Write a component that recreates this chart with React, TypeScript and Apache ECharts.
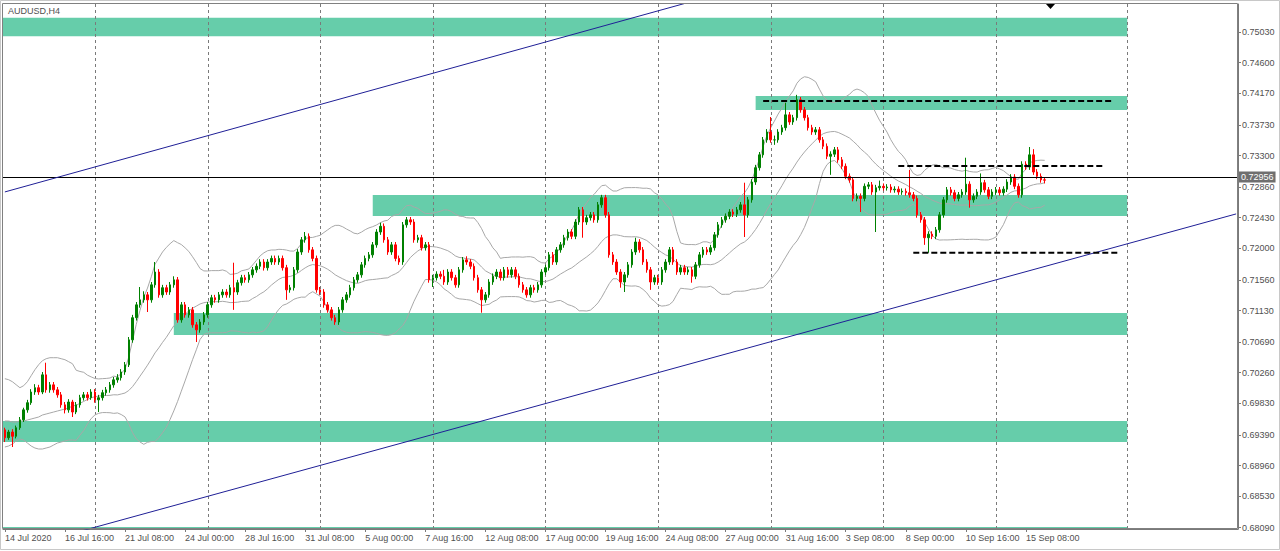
import React, { useEffect, useRef } from 'react';
import * as echarts from 'echarts';

const symbolTitle = 'AUDUSD,H4';
const fontFamily = 'Liberation Sans, Arial, sans-serif';

// Time axis labels, one every 16 H4 bars
const timeLabels = [
  '14 Jul 2020', '16 Jul 16:00', '21 Jul 08:00', '24 Jul 00:00', '28 Jul 16:00', '31 Jul 08:00',
  '5 Aug 00:00', '7 Aug 16:00', '12 Aug 08:00', '17 Aug 00:00', '19 Aug 16:00', '24 Aug 08:00',
  '27 Aug 00:00', '31 Aug 16:00', '3 Sep 08:00', '8 Sep 00:00', '10 Sep 16:00', '15 Sep 08:00',
];
const labelStep = 16;
const slotCount = 329; // visible bar slots incl. chart shift

// Price axis tick labels
const priceTicks = [
  0.68090, 0.68530, 0.68960, 0.69390, 0.69830, 0.70260, 0.70690, 0.71130, 0.71560,
  0.72000, 0.72430, 0.72860, 0.73300, 0.73730, 0.74170, 0.74600, 0.75030,
];
const priceMin = 0.68072;
const priceMax = 0.75422;
const bidPrice = 0.72956;

// H4 candles: [open, close, low, high]
const candles: number[][] = [
  [0.6946, 0.6935, 0.6929, 0.6949], [0.6935, 0.6943, 0.6932, 0.6946], [0.6943, 0.6937, 0.6922, 0.6947], [0.6937, 0.6949, 0.6934, 0.6952],
  [0.6949, 0.6960, 0.6946, 0.6964], [0.6960, 0.6974, 0.6957, 0.6977], [0.6974, 0.6984, 0.6970, 0.6988], [0.6984, 0.6999, 0.6981, 0.7003],
  [0.6999, 0.7005, 0.6995, 0.7010], [0.7005, 0.6999, 0.6995, 0.7009], [0.6999, 0.7023, 0.6996, 0.7027], [0.7023, 0.7002, 0.6998, 0.7040],
  [0.7002, 0.7009, 0.6998, 0.7013], [0.7009, 0.7002, 0.6998, 0.7013], [0.7002, 0.6995, 0.6991, 0.7006], [0.6995, 0.6981, 0.6977, 0.6999],
  [0.6981, 0.6974, 0.6969, 0.6985], [0.6974, 0.6985, 0.6970, 0.6989], [0.6985, 0.6971, 0.6964, 0.6988], [0.6971, 0.6981, 0.6968, 0.6985],
  [0.6981, 0.6991, 0.6977, 0.6995], [0.6991, 0.6995, 0.6987, 0.6999], [0.6995, 0.6991, 0.6987, 0.6999], [0.6991, 0.6999, 0.6988, 0.7003],
  [0.6999, 0.6988, 0.6984, 0.7003], [0.6988, 0.6991, 0.6971, 0.6995], [0.6991, 0.6998, 0.6987, 0.7002], [0.6998, 0.7002, 0.6994, 0.7006],
  [0.7002, 0.7009, 0.6998, 0.7013], [0.7009, 0.7016, 0.7005, 0.7020], [0.7016, 0.7019, 0.7012, 0.7024], [0.7019, 0.7027, 0.7015, 0.7031],
  [0.7027, 0.7037, 0.7023, 0.7041], [0.7037, 0.7072, 0.7034, 0.7076], [0.7072, 0.7103, 0.7068, 0.7107], [0.7103, 0.7121, 0.7099, 0.7125],
  [0.7121, 0.7128, 0.7117, 0.7146], [0.7128, 0.7135, 0.7124, 0.7140], [0.7135, 0.7128, 0.7111, 0.7139], [0.7128, 0.7149, 0.7124, 0.7153],
  [0.7149, 0.7167, 0.7145, 0.7181], [0.7167, 0.7135, 0.7131, 0.7171], [0.7135, 0.7145, 0.7131, 0.7149], [0.7145, 0.7139, 0.7135, 0.7149],
  [0.7139, 0.7149, 0.7135, 0.7153], [0.7149, 0.7156, 0.7145, 0.7161], [0.7156, 0.7100, 0.7096, 0.7160], [0.7100, 0.7121, 0.7096, 0.7125],
  [0.7121, 0.7107, 0.7103, 0.7125], [0.7107, 0.7114, 0.7103, 0.7118], [0.7114, 0.7093, 0.7089, 0.7118], [0.7093, 0.7086, 0.7069, 0.7097],
  [0.7086, 0.7097, 0.7082, 0.7101], [0.7097, 0.7107, 0.7093, 0.7111], [0.7107, 0.7121, 0.7103, 0.7125], [0.7121, 0.7131, 0.7117, 0.7135],
  [0.7131, 0.7128, 0.7124, 0.7135], [0.7128, 0.7135, 0.7124, 0.7139], [0.7135, 0.7139, 0.7131, 0.7143], [0.7139, 0.7135, 0.7131, 0.7143],
  [0.7135, 0.7145, 0.7131, 0.7149], [0.7145, 0.7139, 0.7114, 0.7180], [0.7139, 0.7152, 0.7135, 0.7156], [0.7152, 0.7159, 0.7148, 0.7163],
  [0.7159, 0.7156, 0.7152, 0.7163], [0.7156, 0.7163, 0.7152, 0.7167], [0.7163, 0.7170, 0.7159, 0.7174], [0.7170, 0.7175, 0.7166, 0.7179],
  [0.7175, 0.7181, 0.7171, 0.7185], [0.7181, 0.7173, 0.7169, 0.7185], [0.7173, 0.7181, 0.7169, 0.7185], [0.7181, 0.7186, 0.7177, 0.7190],
  [0.7186, 0.7181, 0.7177, 0.7190], [0.7181, 0.7186, 0.7177, 0.7190], [0.7186, 0.7173, 0.7169, 0.7190], [0.7173, 0.7142, 0.7128, 0.7177],
  [0.7142, 0.7145, 0.7138, 0.7149], [0.7145, 0.7170, 0.7141, 0.7174], [0.7170, 0.7195, 0.7166, 0.7199], [0.7195, 0.7212, 0.7191, 0.7216],
  [0.7212, 0.7217, 0.7208, 0.7223], [0.7217, 0.7198, 0.7194, 0.7221], [0.7198, 0.7186, 0.7182, 0.7202], [0.7186, 0.7142, 0.7138, 0.7190],
  [0.7142, 0.7139, 0.7135, 0.7146], [0.7139, 0.7121, 0.7117, 0.7143], [0.7121, 0.7114, 0.7110, 0.7125], [0.7114, 0.7103, 0.7099, 0.7118],
  [0.7103, 0.7097, 0.7093, 0.7107], [0.7097, 0.7114, 0.7093, 0.7118], [0.7114, 0.7128, 0.7110, 0.7132], [0.7128, 0.7135, 0.7124, 0.7139],
  [0.7135, 0.7145, 0.7131, 0.7149], [0.7145, 0.7156, 0.7141, 0.7160], [0.7156, 0.7163, 0.7152, 0.7167], [0.7163, 0.7177, 0.7159, 0.7181],
  [0.7177, 0.7186, 0.7173, 0.7190], [0.7186, 0.7191, 0.7182, 0.7195], [0.7191, 0.7205, 0.7187, 0.7209], [0.7205, 0.7223, 0.7201, 0.7227],
  [0.7223, 0.7231, 0.7219, 0.7236], [0.7231, 0.7212, 0.7208, 0.7235], [0.7212, 0.7195, 0.7191, 0.7216], [0.7195, 0.7205, 0.7191, 0.7209],
  [0.7205, 0.7186, 0.7182, 0.7209], [0.7186, 0.7181, 0.7177, 0.7190], [0.7181, 0.7233, 0.7177, 0.7237], [0.7233, 0.7240, 0.7229, 0.7244],
  [0.7240, 0.7237, 0.7233, 0.7244], [0.7237, 0.7212, 0.7208, 0.7241], [0.7212, 0.7215, 0.7208, 0.7219], [0.7215, 0.7201, 0.7197, 0.7219],
  [0.7201, 0.7205, 0.7197, 0.7209], [0.7205, 0.7156, 0.7152, 0.7209], [0.7156, 0.7159, 0.7146, 0.7163], [0.7159, 0.7164, 0.7155, 0.7168],
  [0.7164, 0.7161, 0.7157, 0.7168], [0.7161, 0.7153, 0.7149, 0.7170], [0.7153, 0.7167, 0.7149, 0.7171], [0.7167, 0.7159, 0.7155, 0.7171],
  [0.7159, 0.7149, 0.7145, 0.7163], [0.7149, 0.7170, 0.7145, 0.7174], [0.7170, 0.7184, 0.7166, 0.7188], [0.7184, 0.7181, 0.7177, 0.7189],
  [0.7181, 0.7175, 0.7171, 0.7185], [0.7175, 0.7159, 0.7155, 0.7179], [0.7159, 0.7142, 0.7138, 0.7163], [0.7142, 0.7128, 0.7110, 0.7146],
  [0.7128, 0.7135, 0.7124, 0.7139], [0.7135, 0.7153, 0.7131, 0.7157], [0.7153, 0.7161, 0.7149, 0.7165], [0.7161, 0.7167, 0.7157, 0.7171],
  [0.7167, 0.7159, 0.7155, 0.7171], [0.7159, 0.7170, 0.7155, 0.7174], [0.7170, 0.7163, 0.7159, 0.7174], [0.7163, 0.7170, 0.7159, 0.7174],
  [0.7170, 0.7161, 0.7157, 0.7174], [0.7161, 0.7149, 0.7145, 0.7165], [0.7149, 0.7142, 0.7138, 0.7153], [0.7142, 0.7135, 0.7131, 0.7146],
  [0.7135, 0.7145, 0.7131, 0.7149], [0.7145, 0.7142, 0.7138, 0.7149], [0.7142, 0.7149, 0.7138, 0.7153], [0.7149, 0.7167, 0.7145, 0.7171],
  [0.7167, 0.7173, 0.7163, 0.7177], [0.7173, 0.7191, 0.7169, 0.7195], [0.7191, 0.7181, 0.7177, 0.7195], [0.7181, 0.7198, 0.7177, 0.7202],
  [0.7198, 0.7205, 0.7194, 0.7209], [0.7205, 0.7215, 0.7201, 0.7219], [0.7215, 0.7223, 0.7211, 0.7227], [0.7223, 0.7217, 0.7213, 0.7227],
  [0.7217, 0.7237, 0.7213, 0.7241], [0.7237, 0.7254, 0.7233, 0.7258], [0.7254, 0.7237, 0.7215, 0.7258], [0.7237, 0.7243, 0.7233, 0.7247],
  [0.7243, 0.7247, 0.7239, 0.7251], [0.7247, 0.7240, 0.7236, 0.7251], [0.7240, 0.7261, 0.7236, 0.7265], [0.7261, 0.7271, 0.7257, 0.7275],
  [0.7271, 0.7247, 0.7243, 0.7275], [0.7247, 0.7191, 0.7187, 0.7251], [0.7191, 0.7181, 0.7177, 0.7195], [0.7181, 0.7167, 0.7163, 0.7185],
  [0.7167, 0.7153, 0.7145, 0.7171], [0.7153, 0.7163, 0.7139, 0.7167], [0.7163, 0.7177, 0.7159, 0.7181], [0.7177, 0.7195, 0.7173, 0.7199],
  [0.7195, 0.7209, 0.7191, 0.7215], [0.7209, 0.7198, 0.7194, 0.7213], [0.7198, 0.7181, 0.7177, 0.7202], [0.7181, 0.7170, 0.7166, 0.7185],
  [0.7170, 0.7153, 0.7142, 0.7174], [0.7153, 0.7159, 0.7149, 0.7163], [0.7159, 0.7153, 0.7149, 0.7163], [0.7153, 0.7170, 0.7149, 0.7174],
  [0.7170, 0.7181, 0.7166, 0.7185], [0.7181, 0.7198, 0.7177, 0.7202], [0.7198, 0.7181, 0.7177, 0.7202], [0.7181, 0.7167, 0.7163, 0.7185],
  [0.7167, 0.7173, 0.7163, 0.7177], [0.7173, 0.7167, 0.7163, 0.7177], [0.7167, 0.7170, 0.7163, 0.7174], [0.7170, 0.7161, 0.7152, 0.7174],
  [0.7161, 0.7177, 0.7157, 0.7181], [0.7177, 0.7191, 0.7173, 0.7195], [0.7191, 0.7198, 0.7187, 0.7202], [0.7198, 0.7195, 0.7191, 0.7202],
  [0.7195, 0.7201, 0.7191, 0.7205], [0.7201, 0.7219, 0.7197, 0.7223], [0.7219, 0.7233, 0.7215, 0.7237], [0.7233, 0.7240, 0.7229, 0.7244],
  [0.7240, 0.7245, 0.7236, 0.7249], [0.7245, 0.7251, 0.7241, 0.7255], [0.7251, 0.7248, 0.7244, 0.7255], [0.7248, 0.7254, 0.7244, 0.7258],
  [0.7254, 0.7261, 0.7250, 0.7265], [0.7261, 0.7247, 0.7216, 0.7292], [0.7247, 0.7268, 0.7243, 0.7272], [0.7268, 0.7293, 0.7264, 0.7297],
  [0.7293, 0.7313, 0.7289, 0.7317], [0.7313, 0.7331, 0.7309, 0.7335], [0.7331, 0.7352, 0.7327, 0.7356], [0.7352, 0.7363, 0.7348, 0.7367],
  [0.7363, 0.7352, 0.7348, 0.7384], [0.7352, 0.7352, 0.7345, 0.7358], [0.7352, 0.7363, 0.7348, 0.7367], [0.7363, 0.7369, 0.7359, 0.7373],
  [0.7369, 0.7387, 0.7365, 0.7404], [0.7387, 0.7377, 0.7373, 0.7391], [0.7377, 0.7383, 0.7373, 0.7387], [0.7383, 0.7408, 0.7379, 0.7415],
  [0.7408, 0.7394, 0.7390, 0.7412], [0.7394, 0.7383, 0.7379, 0.7398], [0.7383, 0.7369, 0.7365, 0.7387], [0.7369, 0.7363, 0.7359, 0.7373],
  [0.7363, 0.7366, 0.7359, 0.7370], [0.7366, 0.7352, 0.7348, 0.7370], [0.7352, 0.7343, 0.7339, 0.7356], [0.7343, 0.7329, 0.7325, 0.7347],
  [0.7329, 0.7332, 0.7303, 0.7336], [0.7332, 0.7338, 0.7328, 0.7342], [0.7338, 0.7324, 0.7320, 0.7342], [0.7324, 0.7315, 0.7311, 0.7328],
  [0.7315, 0.7301, 0.7297, 0.7319], [0.7301, 0.7296, 0.7292, 0.7305], [0.7296, 0.7270, 0.7266, 0.7300], [0.7270, 0.7273, 0.7266, 0.7277],
  [0.7273, 0.7270, 0.7251, 0.7277], [0.7270, 0.7287, 0.7266, 0.7291], [0.7287, 0.7289, 0.7283, 0.7293], [0.7289, 0.7279, 0.7275, 0.7293],
  [0.7279, 0.7285, 0.7223, 0.7289], [0.7285, 0.7287, 0.7281, 0.7295], [0.7287, 0.7285, 0.7281, 0.7291], [0.7285, 0.7286, 0.7281, 0.7290],
  [0.7286, 0.7282, 0.7278, 0.7290], [0.7282, 0.7283, 0.7278, 0.7287], [0.7283, 0.7279, 0.7275, 0.7287], [0.7279, 0.7280, 0.7275, 0.7284],
  [0.7280, 0.7278, 0.7274, 0.7284], [0.7278, 0.7275, 0.7271, 0.7310], [0.7275, 0.7270, 0.7266, 0.7279], [0.7270, 0.7247, 0.7243, 0.7274],
  [0.7247, 0.7240, 0.7236, 0.7251], [0.7240, 0.7215, 0.7205, 0.7244], [0.7215, 0.7220, 0.7194, 0.7224], [0.7220, 0.7217, 0.7213, 0.7224],
  [0.7217, 0.7226, 0.7213, 0.7230], [0.7226, 0.7247, 0.7222, 0.7251], [0.7247, 0.7268, 0.7243, 0.7272], [0.7268, 0.7282, 0.7264, 0.7286],
  [0.7282, 0.7278, 0.7274, 0.7286], [0.7278, 0.7270, 0.7266, 0.7282], [0.7270, 0.7275, 0.7266, 0.7279], [0.7275, 0.7279, 0.7271, 0.7283],
  [0.7279, 0.7290, 0.7275, 0.7327], [0.7290, 0.7268, 0.7257, 0.7294], [0.7268, 0.7273, 0.7264, 0.7277], [0.7273, 0.7279, 0.7269, 0.7283],
  [0.7279, 0.7292, 0.7275, 0.7305], [0.7292, 0.7282, 0.7278, 0.7296], [0.7282, 0.7273, 0.7269, 0.7286], [0.7273, 0.7279, 0.7269, 0.7283],
  [0.7279, 0.7282, 0.7275, 0.7286], [0.7282, 0.7278, 0.7274, 0.7286], [0.7278, 0.7283, 0.7274, 0.7287], [0.7283, 0.7293, 0.7279, 0.7297],
  [0.7293, 0.7300, 0.7289, 0.7304], [0.7300, 0.7287, 0.7283, 0.7304], [0.7287, 0.7275, 0.7271, 0.7291], [0.7275, 0.7318, 0.7271, 0.7322],
  [0.7318, 0.7314, 0.7310, 0.7322], [0.7314, 0.7331, 0.7310, 0.7342], [0.7331, 0.7307, 0.7303, 0.7339], [0.7307, 0.7301, 0.7297, 0.7311],
  [0.7301, 0.7296, 0.7292, 0.7305], [0.7296, 0.72956, 0.7291, 0.7300],
];

// Bollinger band values visible for the first 19 bars (their 20-bar history lies left of the chart)
const bbLeadUpper = [
  0.70176, 0.70162, 0.70134, 0.70092, 0.70050, 0.70078, 0.70134, 0.70218, 0.70302, 0.70372,
  0.70428, 0.70456, 0.70470, 0.70470, 0.70470, 0.70456, 0.70442, 0.70414, 0.70386,
];
const bbLeadMiddle = [
  0.69584, 0.69584, 0.69570, 0.69570, 0.69584, 0.69584, 0.69598, 0.69612, 0.69626, 0.69640,
  0.69668, 0.69682, 0.69696, 0.69710, 0.69724, 0.69738, 0.69752, 0.69766, 0.69794,
];
const bbLeadLower = [
  0.69220, 0.69234, 0.69262, 0.69304, 0.69332, 0.69318, 0.69276, 0.69234, 0.69206, 0.69192,
  0.69192, 0.69206, 0.69220, 0.69248, 0.69276, 0.69290, 0.69304, 0.69318, 0.69318,
];

// Rectangle zones: [fromBar, toBar, topPrice, bottomPrice]  (fromBar 0 = left edge)
const zones: number[][] = [
  [0, 299, 0.7523, 0.7497],
  [200, 299, 0.74134, 0.73938],
  [98, 299, 0.72748, 0.72454],
  [45, 299, 0.71096, 0.70788],
  [0, 299, 0.69584, 0.69290],
  [0, 299, 0.68100, 0.67900],
];

// Dashed horizontal levels: [fromBar, toBar, price]
const levels: number[][] = [
  [202, 295, 0.74064],
  [238, 293, 0.73154],
  [242, 297, 0.71940],
];

// Trend lines (channel): [bar, price] end points
const trendUpper: number[][] = [[0, 0.72791], [200, 0.75705]];
const trendLower: number[][] = [[0, 0.67750], [328, 0.72483]];

// Vertical grid lines (week starts) and the end marker
const gridBars = [24, 54, 84, 114, 144, 174, 204, 234, 264, 299];

const categories = Array.from({ length: slotCount }, (_, i) => String(i));

function bollinger(period: number, k: number) {
  const closes = candles.map((c) => c[1]);
  const up: (number | null)[] = [];
  const mid: (number | null)[] = [];
  const lo: (number | null)[] = [];
  for (let i = 0; i < closes.length; i++) {
    if (i < period - 1) {
      up.push(bbLeadUpper[i] ?? null);
      mid.push(bbLeadMiddle[i] ?? null);
      lo.push(bbLeadLower[i] ?? null);
      continue;
    }
    const win = closes.slice(i - period + 1, i + 1);
    const m = win.reduce((a, b) => a + b, 0) / period;
    const sd = Math.sqrt(win.reduce((a, b) => a + (b - m) * (b - m), 0) / period);
    up.push(m + k * sd); mid.push(m); lo.push(m - k * sd);
  }
  return { up, mid, lo };
}

const isLabelSlot = (i: number) => i % labelStep === 0 && i / labelStep < timeLabels.length;

export default function App() {
  const ref = useRef<HTMLDivElement>(null);

  useEffect(() => {
    if (!ref.current) return;
    const chart = echarts.init(ref.current, undefined, { renderer: 'svg' });
    const bb = bollinger(20, 2);
    const bbStyle = { color: '#a8a8a8', width: 1 };

    const series: any[] = [
      {
        type: 'custom',
        name: 'zones',
        z: 1,
        silent: true,
        encode: { x: [0, 1], y: [2, 3] },
        data: zones,
        renderItem: (params: any, api: any) => {
          const cs = params.coordSys;
          const a = api.coord([api.value(0), api.value(2)]);
          const b = api.coord([api.value(1), api.value(3)]);
          const left = api.value(0) === 0 ? cs.x : a[0];
          const shape = echarts.graphic.clipRectByRect(
            { x: left, y: a[1], width: b[0] - left, height: b[1] - a[1] },
            { x: cs.x, y: cs.y, width: cs.width, height: cs.height }
          );
          if (!shape) return null;
          return { type: 'rect', shape, style: { fill: '#66cdaa' } };
        },
      },
      {
        type: 'custom',
        name: 'vgrid',
        z: 2,
        silent: true,
        encode: { x: 0, y: 1 },
        data: gridBars.map((g) => [g, priceMin]),
        renderItem: (params: any, api: any) => {
          const cs = params.coordSys;
          const x = Math.round(api.coord([api.value(0), priceMin])[0]) + 0.5;
          return {
            type: 'line',
            shape: { x1: x, y1: cs.y, x2: x, y2: cs.y + cs.height },
            style: { stroke: '#7a7a7a', lineWidth: 1, lineDash: [3, 3] },
          };
        },
      },
      { type: 'line', z: 3, silent: true, symbol: 'none', data: bb.up, lineStyle: bbStyle },
      { type: 'line', z: 3, silent: true, symbol: 'none', data: bb.mid, lineStyle: bbStyle },
      { type: 'line', z: 3, silent: true, symbol: 'none', data: bb.lo, lineStyle: bbStyle },
      {
        type: 'candlestick',
        z: 4,
        silent: true,
        barWidth: 2,
        data: candles,
        itemStyle: {
          color: '#008000',
          color0: '#ff0000',
          borderColor: '#008000',
          borderColor0: '#ff0000',
          borderWidth: 1,
        },
        markLine: {
          silent: true,
          symbol: 'none',
          animation: false,
          data: [{ yAxis: bidPrice }],
          lineStyle: { color: '#000000', width: 1, type: 'solid' },
          label: {
            position: 'end',
            distance: 1,
            formatter: () => bidPrice.toFixed(5),
            backgroundColor: '#6f6f6f',
            color: '#ffffff',
            padding: [1, 2, 1, 2],
            fontSize: 9,
            fontFamily,
          },
        },
      },
      {
        type: 'line', z: 5, silent: true, symbol: 'none', clip: true,
        data: trendUpper, lineStyle: { color: '#1f1f96', width: 1 },
      },
      {
        type: 'line', z: 5, silent: true, symbol: 'none', clip: true,
        data: trendLower, lineStyle: { color: '#1f1f96', width: 1 },
      },
      ...levels.map((lv) => ({
        type: 'line', z: 6, silent: true, symbol: 'none',
        data: [[lv[0], lv[2]], [lv[1], lv[2]]],
        lineStyle: { color: '#000000', width: 2, type: [6, 3] },
      })),
    ];

    chart.setOption({
      animation: false,
      backgroundColor: '#ffffff',
      grid: { left: 3, right: 42, top: 4, bottom: 22, containLabel: false },
      xAxis: {
        type: 'category',
        data: categories,
        boundaryGap: true,
        axisLine: { show: true, lineStyle: { color: '#7a7a7a' } },
        axisTick: {
          show: true,
          alignWithLabel: true,
          interval: (i: number) => isLabelSlot(i),
          length: 3,
          lineStyle: { color: '#7a7a7a' },
        },
        axisLabel: {
          interval: (i: number) => isLabelSlot(i),
          formatter: (v: string) => {
            const i = parseInt(v, 10);
            return isLabelSlot(i) ? timeLabels[i / labelStep] : '';
          },
          align: 'left',
          margin: 4,
          fontSize: 9,
          color: '#505050',
          fontFamily,
        },
        splitLine: { show: false },
      },
      yAxis: {
        type: 'value',
        position: 'right',
        min: priceMin,
        max: priceMax,
        axisLine: { show: true, lineStyle: { color: '#7a7a7a' } },
        axisTick: { show: true, length: 3, customValues: priceTicks, lineStyle: { color: '#7a7a7a' } },
        axisLabel: {
          customValues: priceTicks,
          formatter: (v: number) => v.toFixed(5),
          margin: 4,
          fontSize: 9,
          color: '#505050',
          fontFamily,
        },
        splitLine: { show: false },
      },
      graphic: [
        {
          type: 'rect', z: 100, silent: true,
          shape: { x: 0.5, y: 0.5, width: 1279, height: 549 },
          style: { fill: 'none', stroke: '#c8c8c8', lineWidth: 1 },
        },
        {
          type: 'rect', z: 100, silent: true,
          shape: { x: 2.5, y: 3.5, width: 1235, height: 525 },
          style: { fill: 'none', stroke: '#808080', lineWidth: 1 },
        },
        {
          type: 'text', z: 100, silent: true, left: 8, top: 6,
          style: { text: symbolTitle, fontSize: 9, fill: '#505050', fontFamily },
        },
        {
          type: 'polygon', z: 100, silent: true,
          shape: { points: [[1046, 4], [1055, 4], [1050.5, 9]] },
          style: { fill: '#000000' },
        },
      ],
      series,
    });

    return () => chart.dispose();
  }, []);

  return (
    <div
      ref={ref}
      style={{ position: 'fixed', left: 0, top: 0, width: 1280, height: 551, background: '#fff' }}
    />
  );
}
